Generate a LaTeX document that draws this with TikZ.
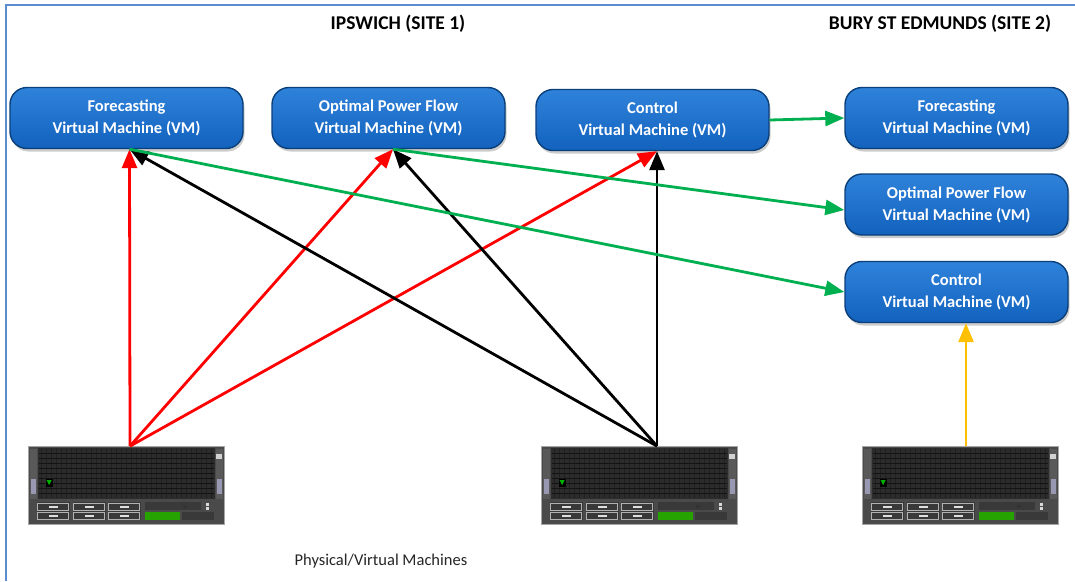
\documentclass[tikz,border=0pt]{standalone}
\usepackage{fontspec}
\setmainfont{Carlito}
\usetikzlibrary{arrows.meta,shadows}

\definecolor{vmtop}{HTML}{2F82DA}
\definecolor{vmbot}{HTML}{1262BE}
\definecolor{vmedge}{HTML}{0A3F7A}
\definecolor{frameblue}{HTML}{5B8BD0}
\definecolor{linkred}{HTML}{FF0000}
\definecolor{linkgreen}{HTML}{00B050}
\definecolor{linkorange}{HTML}{FFC000}
\definecolor{rackgrey}{HTML}{4A4A4A}
\definecolor{rackpanel}{HTML}{2C2C2C}

\tikzset{
  vm/.style={draw=vmedge, line width=1.4pt, rounded corners=17pt,
    top color=vmtop, bottom color=vmbot,
    minimum width=233pt, minimum height=61pt, align=center,
    text=white, font=\bfseries\fontsize{16.5}{22}\selectfont,
    drop shadow={shadow xshift=1.5pt, shadow yshift=-3pt, opacity=0.4}},
  sitetitle/.style={font=\bfseries\fontsize{19.5}{22}\selectfont, text=black},
  serverbox/.style={draw=gray!70, fill=rackgrey, line width=0.8pt,
    minimum width=196pt, minimum height=78pt, inner sep=0pt},
  link/.style={line width=2.8pt, -{Triangle[length=19pt,width=15pt]}},
  serverface/.pic={
    % front grille
    \fill[rackpanel] (10,2) rectangle (187,53);
    \foreach \gx in {14,19,...,184} \draw[black!75!gray, line width=0.4pt] (\gx,3) -- (\gx,52);
    \foreach \gy in {7,12,...,50} \draw[black!85!gray, line width=0.3pt] (11,\gy) -- (186,\gy);
    % handles
    \fill[gray!70!black] (2,3) rectangle (9,53);
    \fill[gray!70!black] (188,3) rectangle (195,53);
    \fill[blue!15!gray!70] (3,33) rectangle (8,48);
    \fill[blue!15!gray!70] (189,33) rectangle (194,48);
    \fill[gray!35] (188,8) rectangle (194,13);
    % status light
    \fill[black] (18,33) rectangle (25,41);
    \fill[green!70!black] (19,34) -- (24,34) -- (21.5,39) -- cycle;
    % drive bays
    \foreach \bx in {9,45,80} {
      \fill[gray!45!black] (\bx,56) rectangle ++(33,18);
      \draw[gray!60, line width=0.5pt] (\bx+1,57) rectangle ++(31,7);
      \draw[gray!60, line width=0.5pt] (\bx+1,66) rectangle ++(31,7);
      \fill[gray!25] (\bx+12,59.5) rectangle ++(9,2);
      \fill[gray!25] (\bx+12,68.5) rectangle ++(9,2);
    }
    % control panel
    \fill[gray!45!black] (117,56) rectangle (173,64);
    \fill[black!80] (155,58.5) rectangle (159,61.5);
    \fill[green!55!black!80!lime] (117,66) rectangle (152,74);
    \fill[gray!45!black] (154,66) rectangle (186,74);
    \fill[gray!30] (178,57) rectangle (181,60);
    \fill[gray!30] (178,61) rectangle (181,64);
  }
}

\begin{document}
\begin{tikzpicture}[x=1pt,y=-1pt]
  \useasboundingbox (0,0) rectangle (1075,581);
  \fill[white] (0,0) rectangle (1075,581);

  % frame edge
  \draw[frameblue, line width=2.5pt] (6,581) -- (6,5) -- (1075,5);

  % site headings
  \node[sitetitle] (site1) at (398,24) {IPSWICH (SITE 1)};
  \node[sitetitle] (site2) at (940,24) {BURY ST EDMUNDS (SITE 2)};

  % virtual machines, site 1
  \node[vm] (f1) at (126.5,118) {Forecasting\\Virtual Machine (VM)};
  \node[vm] (p1) at (388.5,118) {Optimal Power Flow\\Virtual Machine (VM)};
  \node[vm] (c1) at (652.5,120) {Control\\Virtual Machine (VM)};

  % virtual machines, site 2
  \node[vm, minimum width=223pt] (f2) at (956.5,118) {Forecasting\\Virtual Machine (VM)};
  \node[vm, minimum width=223pt] (p2) at (956.5,204.5) {Optimal Power Flow\\Virtual Machine (VM)};
  \node[vm, minimum width=223pt] (c2) at (956.5,292) {Control\\Virtual Machine (VM)};

  % physical machines
  \node[serverbox] (s1) at (126,485.5) {};
  \pic at (s1.north west) {serverface};
  \node[serverbox] (s2) at (639,485.5) {};
  \pic at (s2.north west) {serverface};
  \node[serverbox] (s3) at (960,485.5) {};
  \pic at (s3.north west) {serverface};

  \node[font=\fontsize{16.5}{18}\selectfont, text=black!85] (caption) at (381,561) {Physical/Virtual Machines};

  % anchor points on the machines and boxes
  \coordinate (s1top) at ([xshift=4pt]s1.north);
  \coordinate (s2top) at ([xshift=18pt]s2.north);
  \coordinate (s3top) at ([xshift=6pt]s3.north);
  \coordinate (f1in) at ([xshift=3pt]f1.south);
  \coordinate (p1in) at ([xshift=4.5pt]p1.south);
  \coordinate (c1in) at ([xshift=4.5pt]c1.south);
  \coordinate (p2in) at ([yshift=-5.5pt]p2.west);

  % site 1 machine A to the VMs
  \draw[link, linkred] (s1top) -- (f1in);
  \draw[link, linkred] (s1top) -- (p1in);
  \draw[link, linkred] (s1top) -- (c1in);

  % site 1 machine B to the VMs
  \draw[link, black] (s2top) -- (f1in);
  \draw[link, black] (s2top) -- (p1in);
  \draw[link, black] (s2top) -- (c1in);

  % replication to site 2
  \draw[link, linkgreen] (f1in) -- (c2.west);
  \draw[link, linkgreen] (p1in) -- (p2in);
  \draw[link, linkgreen] (c1.east) -- (f2.west);

  % site 2 machine
  \draw[link, linkorange] (s3top) -- (c2.south -| s3top);
\end{tikzpicture}
\end{document}
